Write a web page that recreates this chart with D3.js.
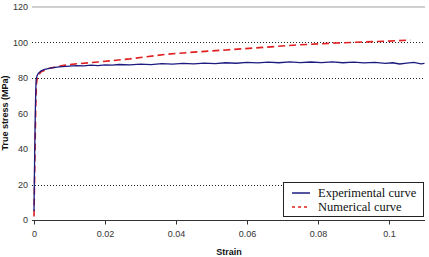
<!DOCTYPE html>
<html>
<head>
<meta charset="utf-8">
<script src="https://cdn.jsdelivr.net/npm/d3@7"></script>
<style>
  body { margin: 0; background: #fff; }
  svg { display: block; }
</style>
</head>
<body>
<div id="chart"></div>
<script>
// tick values
var xTicks = [0, 0.02, 0.04, 0.06, 0.08, 0.1];
var yTicks = [0, 20, 40, 60, 80, 100, 120];
var gridTicks = [20, 80, 100];

// experimental curve (strain, true stress)
var expStrain = [0, 0.0001, 0.0002, 0.0003, 0.0004, 0.0005, 0.0006, 0.0008, 0.0012, 0.002, 0.003, 0.004, 0.005, 0.0065, 0.008, 0.01, 0.012, 0.014, 0.016, 0.018, 0.02, 0.022, 0.024, 0.027, 0.03, 0.033, 0.036, 0.039, 0.042, 0.045, 0.048, 0.051, 0.054, 0.057, 0.06, 0.063, 0.066, 0.069, 0.072, 0.075, 0.078, 0.081, 0.084, 0.087, 0.09, 0.093, 0.096, 0.099, 0.101, 0.103, 0.105, 0.107, 0.109, 0.11];
var expStress = [5, 22, 38, 52, 64, 73, 79, 81, 82.6, 84, 84.8, 85.3, 85.7, 86.1, 86.4, 86.7, 87.0, 86.8, 87.2, 87.0, 87.4, 87.2, 87.6, 87.4, 87.8, 87.5, 88.1, 87.8, 88.2, 88.0, 88.4, 88.1, 88.6, 88.3, 88.8, 88.5, 88.9, 88.6, 89.1, 88.7, 89.0, 88.7, 89.1, 88.6, 88.9, 88.5, 88.8, 88.2, 88.6, 87.9, 88.4, 88.8, 88.0, 88.2];

// numerical curve
var numStrain = [0, 0.0001, 0.0003, 0.0005, 0.0007, 0.001, 0.002, 0.004, 0.008, 0.012, 0.018, 0.027, 0.037, 0.045, 0.054, 0.065, 0.074, 0.085, 0.1, 0.106];
var numStress = [2, 15, 40, 65, 77, 81, 83.5, 85.3, 87.0, 88.0, 89.0, 90.8, 93.3, 94.6, 95.8, 97.3, 98.6, 99.7, 100.8, 101.4];

var W = 429, H = 257;
var x = d3.scaleLinear().domain([0, 0.11]).range([34, 424.5]);
var y = d3.scaleLinear().domain([0, 120]).range([220, 7]);

var svg = d3.select('#chart').append('svg').attr('width', W).attr('height', H);

// top border line
svg.append('line')
  .attr('x1', 32).attr('x2', 425)
  .attr('y1', y(120)).attr('y2', y(120))
  .attr('stroke', '#a0a0a0').attr('stroke-width', 1);

// dotted gridlines
svg.selectAll('.grid').data(gridTicks).enter().append('line')
  .attr('class', 'grid')
  .attr('x1', 32).attr('x2', 425)
  .attr('y1', function(d){ return Math.round(y(d)) + 0.5; })
  .attr('y2', function(d){ return Math.round(y(d)) + 0.5; })
  .attr('stroke', '#222').attr('stroke-width', 1)
  .attr('stroke-dasharray', '1,2');

// x axis
var xAxis = svg.append('g').attr('transform', 'translate(0,220.5)')
  .call(d3.axisBottom(x).tickValues(xTicks).tickSize(4).tickSizeOuter(0)
    .tickFormat(function(d){ return String(d); }));
xAxis.select('.domain').attr('d', 'M32,0H425').attr('stroke', '#333');
xAxis.selectAll('.tick line').attr('stroke', '#333');
xAxis.selectAll('.tick text').attr('y', 10)
  .attr('font-family', 'Liberation Sans, Arial, sans-serif').attr('font-size', 9).attr('fill', '#333');

// y axis labels only
var yAxis = svg.append('g').attr('transform', 'translate(31,0)')
  .call(d3.axisLeft(y).tickValues(yTicks).tickSize(0));
yAxis.select('.domain').remove();
yAxis.selectAll('.tick text').attr('x', -3)
  .attr('font-family', 'Liberation Sans, Arial, sans-serif').attr('font-size', 9).attr('fill', '#333');

// curves
var line = d3.line()
  .x(function(d){ return x(d[0]); })
  .y(function(d){ return y(d[1]); });

var expData = d3.zip(expStrain, expStress);
var numData = d3.zip(numStrain, numStress);

svg.append('path').datum(numData)
  .attr('d', line).attr('fill', 'none')
  .attr('stroke', '#e02020').attr('stroke-width', 1.6)
  .attr('stroke-dasharray', '7,4');

svg.append('path').datum(expData)
  .attr('d', line).attr('fill', 'none')
  .attr('stroke', '#1c1c80').attr('stroke-width', 1.3);

// axis titles
svg.append('text').attr('x', 229).attr('y', 255)
  .attr('text-anchor', 'middle')
  .attr('font-family', 'Liberation Sans, Arial, sans-serif').attr('font-size', 9).attr('font-weight', 'bold')
  .attr('fill', '#111').text('Strain');

svg.append('text').attr('transform', 'translate(8,113) rotate(-90)')
  .attr('text-anchor', 'middle')
  .attr('font-family', 'Liberation Sans, Arial, sans-serif').attr('font-size', 9).attr('font-weight', 'bold')
  .attr('fill', '#111').text('True stress (MPa)');

// legend
var legend = svg.append('g');
legend.append('rect')
  .attr('x', 283.5).attr('y', 182.5).attr('width', 140).attr('height', 34)
  .attr('fill', '#fff').attr('stroke', '#222').attr('stroke-width', 1);

var legendItems = [
  { name: 'Experimental curve', color: '#1c1c80', dash: null },
  { name: 'Numerical curve', color: '#e02020', dash: '3,3' }
];
legendItems.forEach(function(it, i){
  var ly = 193 + i * 14;
  legend.append('line')
    .attr('x1', 292).attr('x2', 310).attr('y1', ly).attr('y2', ly)
    .attr('stroke', it.color).attr('stroke-width', 1.5)
    .attr('stroke-dasharray', it.dash);
  legend.append('text').attr('x', 318).attr('y', ly + 4)
    .attr('font-family', 'Liberation Serif, Times New Roman, serif').attr('font-size', 12.5)
    .attr('fill', '#111').text(it.name);
});
</script>
</body>
</html>
